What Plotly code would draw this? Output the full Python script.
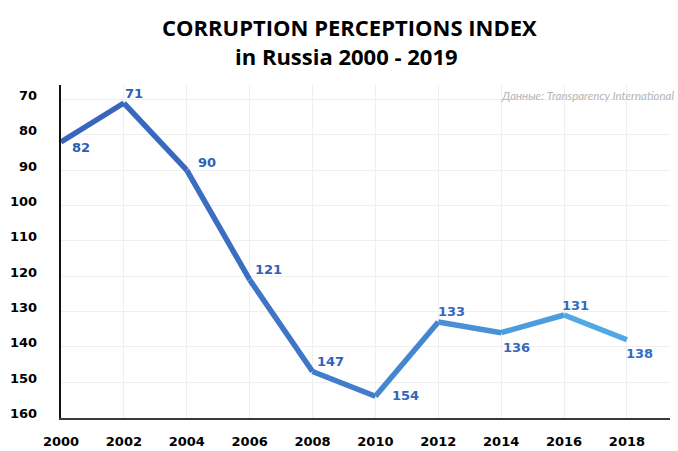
import plotly.graph_objects as go

years = [2000, 2002, 2004, 2006, 2008, 2010, 2012, 2014, 2016, 2018]
rank = [82, 71, 90, 121, 147, 154, 133, 136, 131, 138]
labels = ["82", "71", "90", "121", "147", "154", "133", "136", "131", "138"]
y_ticks = [70, 80, 90, 100, 110, 120, 130, 140, 150, 160]

# label offsets (px) relative to each point
label_offsets = [(20, -6), (10, 10), (20, 8), (19, 10), (18, 10), (30, 1), (13, 11), (15, -15), (11, 10), (13, -14)]

c0 = (56, 102, 188)
c1 = (80, 168, 230)
l0 = (45, 92, 182)
l1 = (52, 108, 196)

def mix(a_, b_, t):
    return "rgb(%d,%d,%d)" % tuple(round(a + (b - a) * t) for a, b in zip(a_, b_))

fig = go.Figure()
n = len(years)
for i in range(n - 1):
    t = (i / (n - 2)) ** 1.5
    fig.add_trace(go.Scatter(
        x=years[i:i + 2], y=rank[i:i + 2], mode="lines",
        line=dict(color=mix(c0, c1, t), width=5.5), showlegend=False, hoverinfo="skip",
    ))

num_font = "DejaVu Sans"

for i, (x, y, lab) in enumerate(zip(years, rank, labels)):
    dx, dy = label_offsets[i]
    fig.add_annotation(
        x=x, y=y, text=lab, showarrow=False, xshift=dx, yshift=dy,
        font=dict(family=num_font, size=13, color=mix(l0, l1, i / (n - 1)), weight=700),
    )

# y tick labels (drawn as annotations, slightly raised like the original)
for v in y_ticks:
    fig.add_annotation(
        xref="paper", x=0, y=v, text=str(v), showarrow=False,
        xanchor="right", xshift=-22, yshift=4,
        font=dict(family=num_font, size=13, color="black", weight=700),
    )

fig.add_annotation(
    xref="paper", yref="paper", x=1, y=1.0, xanchor="right", yanchor="middle",
    xshift=6, yshift=-10, text="<i>Данные: Transparency International</i>", showarrow=False,
    font=dict(family="Lato", size=11.5, color="#b5b5b5"),
)

# title (two lines)
fig.add_annotation(
    xref="paper", yref="paper", x=0.474, y=1.0, yshift=58, xanchor="center", yanchor="middle",
    text="CORRUPTION PERCEPTIONS INDEX", showarrow=False,
    font=dict(family="Open Sans", size=22, color="black", weight=700),
)
fig.add_annotation(
    xref="paper", yref="paper", x=0.468, y=1.0, yshift=29, xanchor="center", yanchor="middle",
    text="in Russia 2000 - 2019", showarrow=False,
    font=dict(family="Open Sans", size=22, color="black", weight=700),
)

fig.update_layout(
    width=678, height=451,
    margin=dict(l=61, r=8, t=85, b=33, autoexpand=False),
    paper_bgcolor="white", plot_bgcolor="white",
    xaxis=dict(
        range=[2000, 2019.37], tickmode="array", tickvals=years,
        ticktext=[str(y) for y in years], automargin=False,
        showgrid=True, gridcolor="#efefef", gridwidth=1,
        showline=True, linecolor="#3a3a3a", linewidth=1.6,
        ticks="outside", ticklen=11, tickcolor="rgba(0,0,0,0)",
        tickfont=dict(family=num_font, size=13, color="black", weight=700),
        zeroline=False,
    ),
    yaxis=dict(
        range=[160.15, 65.9], tickmode="array", tickvals=y_ticks,
        showticklabels=False, automargin=False,
        showgrid=True, gridcolor="#efefef", gridwidth=1,
        showline=True, linecolor="#111111", linewidth=1.6,
        zeroline=False,
    ),
)

fig.write_html("out.html", config={"displayModeBar": False},
               post_script="document.body.style.margin='0';")
